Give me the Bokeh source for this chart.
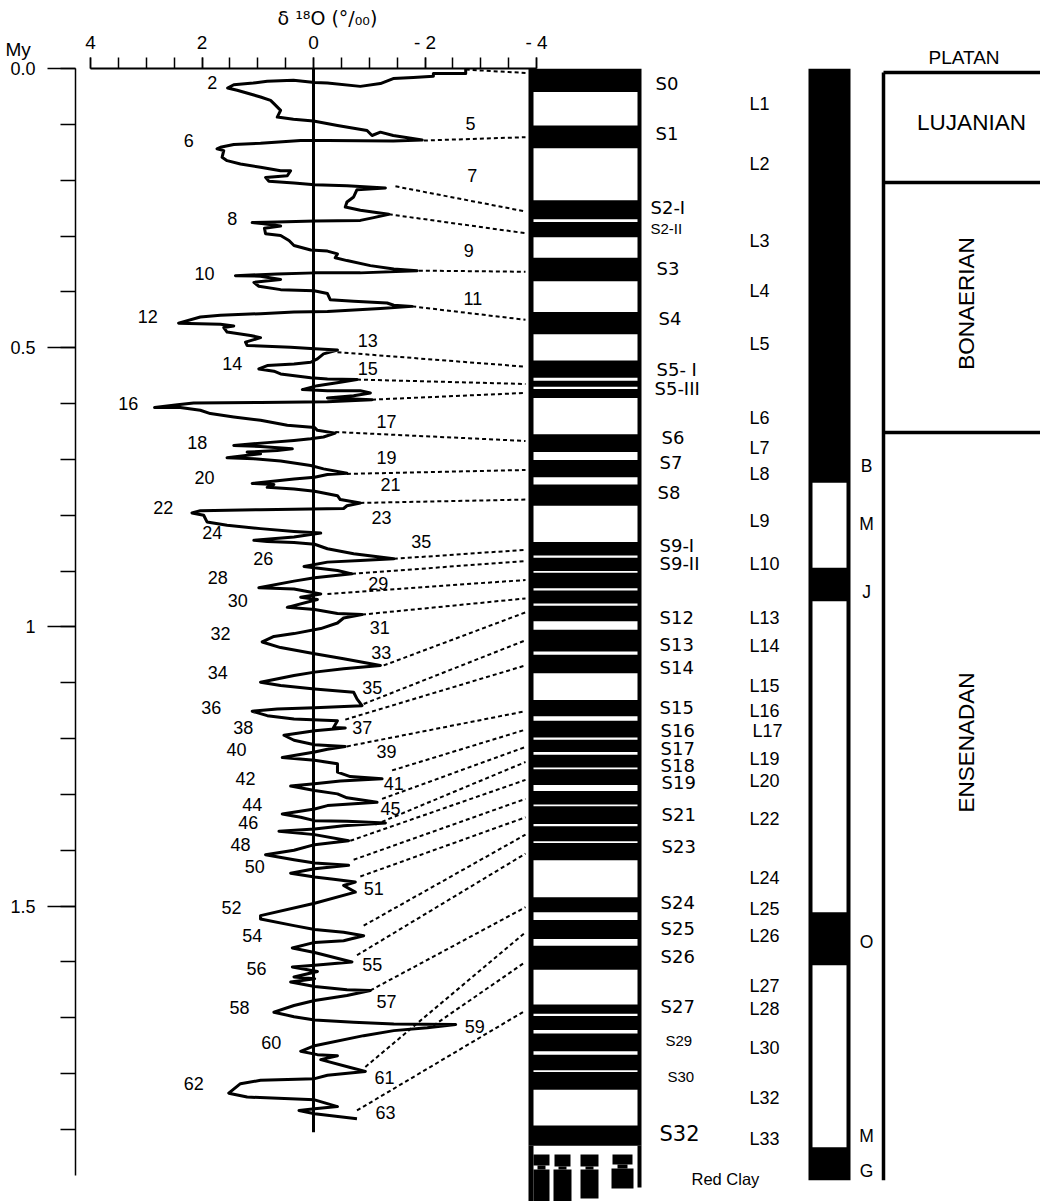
import numpy as np
from bokeh.plotting import figure
from bokeh.models import Range1d, LinearAxis, FixedTicker, ColumnDataSource, LabelSet, Title, Grid
from bokeh.core.properties import value
from bokeh.embed import file_html
from bokeh.resources import INLINE

# ---------------- data ----------------
# benthic d18O record: age (My) and d18O (permil)
age_my = [
    0.000, 0.009, 0.009, 0.014, 0.016, 0.018, 0.027, 0.032, 0.026, 0.025,
    0.021, 0.023, 0.026, 0.029, 0.035, 0.039, 0.051, 0.057, 0.063, 0.075,
    0.087, 0.091, 0.094, 0.102, 0.111, 0.120, 0.114, 0.120, 0.128, 0.130,
    0.129, 0.129, 0.134, 0.136, 0.141, 0.144, 0.147, 0.159, 0.165, 0.171,
    0.177, 0.183, 0.183, 0.192, 0.195, 0.202, 0.205, 0.208, 0.210, 0.214,
    0.217, 0.230, 0.239, 0.248, 0.254, 0.261, 0.267, 0.272, 0.273, 0.275,
    0.276, 0.278, 0.282, 0.286, 0.296, 0.299, 0.308, 0.317, 0.325, 0.327,
    0.332, 0.339, 0.344, 0.353, 0.359, 0.362, 0.366, 0.366, 0.368, 0.371,
    0.372, 0.378, 0.383, 0.390, 0.396, 0.398, 0.403, 0.414, 0.417, 0.420,
    0.424, 0.426, 0.430, 0.435, 0.436, 0.439, 0.442, 0.445, 0.456,
    0.458, 0.461, 0.464, 0.472, 0.478, 0.482, 0.490, 0.496, 0.499, 0.502,
    0.504, 0.511, 0.520, 0.526, 0.529, 0.532, 0.538, 0.542, 0.547, 0.554,
    0.556, 0.557, 0.562, 0.568, 0.575, 0.577, 0.577, 0.581, 0.586, 0.590,
    0.592, 0.593, 0.597, 0.598, 0.599, 0.602, 0.607, 0.607, 0.612, 0.618,
    0.624, 0.630, 0.639, 0.643, 0.648, 0.653, 0.660, 0.663, 0.666, 0.670,
    0.675, 0.677, 0.681, 0.684, 0.687, 0.690, 0.697, 0.699, 0.703, 0.711,
    0.717, 0.725, 0.727, 0.732, 0.735, 0.743, 0.745, 0.750, 0.753, 0.757,
    0.765, 0.772, 0.778, 0.783, 0.788, 0.790, 0.792, 0.796, 0.800, 0.812,
    0.818, 0.824, 0.829, 0.832, 0.839, 0.845, 0.847, 0.849, 0.852, 0.860,
    0.869, 0.878, 0.881, 0.884, 0.892, 0.899, 0.905, 0.912, 0.918, 0.930,
    0.932, 0.941, 0.947, 0.951, 0.965, 0.969, 0.976, 0.978, 0.984, 0.993,
    1.003, 1.012, 1.017, 1.027, 1.037, 1.048, 1.057, 1.069, 1.075, 1.081,
    1.087, 1.099, 1.105, 1.111, 1.117, 1.129, 1.141, 1.145, 1.147, 1.151,
    1.159, 1.165, 1.168, 1.180, 1.181, 1.186, 1.194, 1.203, 1.211, 1.214,
    1.219, 1.224, 1.234, 1.239, 1.245, 1.260, 1.268, 1.272, 1.276, 1.281,
    1.285, 1.293, 1.299, 1.306, 1.314, 1.320, 1.326, 1.335, 1.341, 1.347,
    1.348, 1.351, 1.356, 1.362, 1.366, 1.372, 1.383, 1.390, 1.400, 1.408,
    1.417, 1.423, 1.427, 1.433, 1.441, 1.448, 1.452, 1.457, 1.463, 1.475,
    1.495, 1.517, 1.523, 1.535, 1.542, 1.547, 1.553, 1.562, 1.565, 1.575,
    1.583, 1.600, 1.606, 1.609, 1.617, 1.627, 1.630, 1.636, 1.644, 1.650,
    1.651, 1.660, 1.669, 1.678, 1.690, 1.698, 1.704, 1.708, 1.711, 1.712,
    1.718, 1.723, 1.732, 1.750, 1.760, 1.766, 1.768, 1.775, 1.789, 1.796,
    1.803, 1.809, 1.812, 1.818, 1.835, 1.842, 1.847, 1.859, 1.863, 1.866, 1.872, 1.881,
]
d18o = [
    -2.73, -2.73, -2.15, -2.15, -1.79, -1.43, -1.20, -0.84, -0.25, -0.02,
    0.36, 0.83, 1.08, 1.43, 1.54, 1.37, 0.95, 0.77, 0.71, 0.59,
    0.65, 0.36, 0.00, -0.43, -0.96, -1.05, -1.20, -1.43, -1.95, -1.43,
    -0.25, 0.23, 0.95, 1.43, 1.67, 1.73, 1.61, 1.64, 1.55, 1.31,
    0.95, 0.59, 0.41, 0.47, 0.86, 0.80, 0.35, -0.02, -0.60, -1.29,
    -0.78, -0.72, -0.60, -0.57, -0.84, -1.35, -1.08, -0.84, -0.02, 0.65,
    1.10, 0.89, 0.59, 0.88, 0.86, 0.59, 0.44, 0.35, 0.05, -0.25,
    -0.43, -0.39, -0.60, -1.02, -1.44, -1.86, -0.84, -0.02, 0.65, 1.40,
    0.95, 0.59, 1.07, 0.98, 0.59, -0.01, -0.25, -0.30, -0.72, -1.32,
    -1.44, -1.77, -1.20, -0.25, 0.35, 0.95, 1.67, 2.03, 2.42,
    1.67, 1.43, 1.61, 1.55, 1.13, 0.95, 1.22, 1.19, 0.41, -0.02,
    -0.43, -0.18, -0.07, 0.05, 0.35, 0.83, 0.98, 0.71, 0.59, 0.05,
    -0.25, -0.78, -0.48, -0.07, 0.20, -0.25, -0.84, -1.02, -0.72, -0.25,
    -0.72, -1.05, -0.25, 0.95, 2.15, 2.44, 2.85, 2.39, 2.03, 1.85,
    1.43, 0.95, 0.47, -0.02, -0.07, -0.39, -0.18, 0.05, 0.35, 0.83,
    1.43, 0.95, 0.38, 0.65, 1.19, 0.95, 1.55, 1.07, 0.59, 0.05,
    -0.18, -0.60, -0.25, -0.02, 0.35, 1.10, 0.71, 0.83, 0.35, -0.02,
    -0.43, -0.48, -0.84, -0.60, -0.54, 0.95, 2.03, 2.18, 1.97, 1.91,
    1.55, 0.95, 0.35, -0.13, 0.35, 1.07, 0.83, 0.35, -0.02, -0.25,
    -0.72, -1.44, -0.84, -0.25, 0.17, -0.43, -0.69, -0.02, 0.35, 0.98,
    0.35, -0.13, 0.23, -0.07, 0.47, -0.02, -0.43, -0.87, -0.54, -0.43,
    -0.13, 0.35, 0.71, 0.92, 0.59, -0.02, -0.54, -1.20, -0.54, -0.02,
    0.35, 0.95, 0.59, -0.02, -0.72, -0.78, -0.87, -0.02, 0.65, 1.10,
    0.83, 0.35, -0.43, -0.36, -0.57, -0.02, 0.53, 0.35, -0.02, -0.57,
    -0.25, -0.02, 0.56, -0.02, -0.43, -0.43, -0.66, -1.23, -0.48, -0.02,
    0.41, -0.02, -0.43, -0.60, -1.14, -0.25, -0.02, 0.56, 0.23, -0.02,
    -0.60, -1.29, -0.54, -0.02, 0.62, -0.02, -0.63, -0.02, 0.35, 0.86,
    0.35, -0.02, -0.63, -0.02, 0.41, -0.02, -0.36, -0.75, -0.54, -0.75,
    -0.02, 0.95, 0.95, 0.35, -0.02, -0.54, -0.90, -0.54, -0.02, 0.38,
    -0.02, -0.69, -0.02, 0.38, -0.07, 0.35, -0.02, 0.41, -0.02, -0.60,
    -1.02, -0.60, -0.02, 0.35, 0.71, 0.35, -0.02, -0.72, -1.44, -2.55,
    -2.04, -1.44, -0.90, -0.02, 0.23, -0.07, -0.43, -0.13, -0.66, -0.93,
    -0.25, -0.02, 0.95, 1.31, 1.52, 1.19, -0.02, -0.43, -0.02, 0.26, -0.02, -0.78,
]
record_end_my = 1.905

# correlation (tie) lines: curve point -> top of a palaeosol in the column
tie_d18o = [-2.73, -1.98, -1.47, -1.35, -1.89, -1.77, -0.43, -0.78, -1.05, -0.39,
            -0.60, -0.84, -1.44, -0.69, -0.25, -0.87, -1.26, -0.90, -0.57, -0.60,
            -1.41, -1.23, -1.11, -0.66, -0.72, -0.84, -0.90, -0.78, -1.02, -0.93,
            -2.15, -0.78]
tie_age_curve = [0.002, 0.129, 0.211, 0.261, 0.362, 0.426, 0.508, 0.557, 0.593, 0.651,
                 0.726, 0.778, 0.878, 0.905, 0.941, 0.978, 1.069, 1.138, 1.166, 1.214,
                 1.257, 1.308, 1.354, 1.383, 1.417, 1.447, 1.535, 1.588, 1.651, 1.788,
                 1.714, 1.866]
tie_age_column = [0.008, 0.123, 0.256, 0.295, 0.364, 0.450, 0.534, 0.565, 0.581, 0.667,
                  0.719, 0.772, 0.862, 0.882, 0.916, 0.949, 0.974, 1.024, 1.069, 1.151,
                  1.184, 1.215, 1.242, 1.274, 1.308, 1.341, 1.372, 1.406, 1.502, 1.547,
                  1.600, 1.687]

# loess (white) intervals in the loess-palaeosol column (My); the rest is palaeosol (black)
loess_top = [0.042, 0.143, 0.270, 0.302, 0.381, 0.476, 0.554, 0.570, 0.590, 0.687,
             0.732, 0.783, 0.872, 0.900, 0.931, 0.958, 0.990, 1.044, 1.083, 1.160,
             1.198, 1.224, 1.252, 1.283, 1.318, 1.353, 1.384, 1.418, 1.511, 1.559,
             1.614, 1.693, 1.722, 1.760, 1.794, 1.829]
loess_bottom = [0.102, 0.236, 0.275, 0.339, 0.436, 0.523, 0.559, 0.574, 0.655, 0.701,
                0.745, 0.848, 0.876, 0.903, 0.935, 0.962, 1.005, 1.050, 1.131, 1.168,
                1.202, 1.229, 1.255, 1.294, 1.321, 1.357, 1.387, 1.484, 1.525, 1.571,
                1.676, 1.697, 1.728, 1.766, 1.797, 1.893]
column_base_my = 1.929

# magnetic polarity: reversed (white) intervals; normal (black) elsewhere
reversed_top = [0.742, 0.954, 1.606]
reversed_bottom = [0.894, 1.511, 1.932]
polarity_base_my = 1.991

# South American land-mammal stages
stage_names = ["LUJANIAN", "BONAERIAN", "ENSENADAN"]
stage_top = [0.007, 0.204, 0.652]
stage_bottom = [0.204, 0.652, 1.991]

# texts
peak_labels = ["2", "5", "6", "7", "8", "9", "10", "11", "12", "13", "14", "15", "16", "17",
               "18", "19", "20", "21", "22", "23", "24", "35", "26", "28", "29", "30", "31",
               "32", "33", "34", "35", "36", "37", "38", "39", "40", "41", "42", "44", "45",
               "46", "48", "50", "51", "52", "54", "55", "56", "57", "58", "59", "60", "61",
               "62", "63"]
soil_labels = ["S0", "S1", "S2-I", "S2-II", "S3", "S4", "S5- I", "S5-III", "S6", "S7", "S8",
               "S9-I", "S9-II", "S12", "S13", "S14", "S15", "S16", "S17", "S18", "S19",
               "S21", "S23", "S24", "S25", "S26", "S27", "S29", "S30", "S32"]
loess_labels = ["L1", "L2", "L3", "L4", "L5", "L6", "L7", "L8", "L9", "L10", "L13", "L14",
                "L15", "L16", "L17", "L19", "L20", "L22", "L24", "L25", "L26", "L27", "L28",
                "L30", "L32", "L33"]
chron_labels = ["B", "M", "J", "O", "M", "G"]
y_tick_labels = {0: "0.0", 0.5: "0.5", 1: "1", 1.5: "1.5"}
x_tick_labels = {4: "4", 2: "2", 0: "0", -2: "- 2", -4: "- 4"}
x_title = "\u03b4 \u00b9\u2078O (\u00b0/\u2080\u2080)"
y_unit = "My"
table_header = "PLATAN"

# ---------------- layout (reference pixels) ----------------
FIG_W, FIG_H = 1040, 1201
BL, BT = 75, 68
X0, KX = 313.0, 55.75     # position of d18O = 0 and px per permil
Y0, KY = 68.0, 558.4      # position of 0 My and px per My


def age_at(py):
    return (py - Y0) / KY


def d_at(px):
    return (X0 - px) / KX


p = figure(width=FIG_W, height=FIG_H, output_backend="svg", toolbar_location=None,
           x_range=Range1d(d_at(BL), d_at(FIG_W)),
           y_range=Range1d(age_at(FIG_H), age_at(BT)),
           x_axis_location=None, y_axis_location=None,
           min_border_left=BL, min_border_top=BT, min_border_right=0, min_border_bottom=0,
           background_fill_color="white", border_fill_color="white")
p.extra_x_ranges = {"lay": Range1d(BL, FIG_W)}
p.outline_line_color = None

top_ax = LinearAxis(
    bounds=(-4, 4),
    ticker=FixedTicker(ticks=[4, 2, 0, -2, -4],
                       minor_ticks=[float(v) for v in np.arange(-4, 4.01, 0.5)]),
    major_label_overrides=x_tick_labels,
    major_tick_in=0, major_tick_out=11, minor_tick_in=0, minor_tick_out=11,
    major_tick_line_width=1.5, minor_tick_line_width=1.5, axis_line_width=2,
    major_label_standoff=5, major_label_text_font_size="19px",
    major_label_text_font="Liberation Sans", major_label_text_color="black")
p.add_layout(top_ax, "above")


def head(text, offset, standoff, font="Liberation Sans"):
    t = Title(text=text, align="left", offset=offset, standoff=standoff,
              vertical_align="bottom", text_font=font, text_font_size="19px",
              text_font_style="normal", text_color="black")
    p.add_layout(t, "above")


head(x_title, 202, 0, font="DejaVu Sans")
head(table_header, 853, -127)
head(y_unit, -70, -110)

left_ax = LinearAxis(
    bounds=(0, age_at(1175)),
    ticker=FixedTicker(ticks=[0, 0.5, 1, 1.5],
                       minor_ticks=[round(0.1 * i, 1) for i in range(20)]),
    major_label_overrides=y_tick_labels,
    major_tick_in=0, major_tick_out=28, minor_tick_in=0, minor_tick_out=15,
    major_tick_line_width=1.5, minor_tick_line_width=1.5, axis_line_width=1.5,
    major_label_standoff=12, major_label_text_font_size="18px",
    major_label_text_font="Liberation Sans", major_label_text_color="black")
p.add_layout(left_ax, "left")

for g in p.select(type=Grid):
    g.visible = False

# ---- d18O curve, zero line, ties ----
p.line([0, 0], [0, record_end_my], line_width=3, color="black")
p.line(d18o, age_my, line_width=3, color="black", line_join="round")
TIE_END = 525
p.segment(x0=tie_d18o, y0=tie_age_curve, x1=[d_at(TIE_END)] * len(tie_d18o), y1=tie_age_column,
          line_dash="4 3", line_width=2, color="black")

# ---- loess / palaeosol column ----
COL_L, COL_R, COL_IL, COL_IR = 528, 641, 533, 637
p.quad(left=[COL_L], right=[COL_R], top=[0], bottom=[column_base_my],
       color="black", line_color=None, x_range_name="lay")
p.quad(left=COL_IL, right=COL_IR, top=loess_top, bottom=loess_bottom,
       color="white", line_color=None, x_range_name="lay")
# red clay at the base (lithology symbol)
p.quad(left=[COL_L, COL_IR], right=[COL_IL, COL_R], top=[column_base_my] * 2,
       bottom=[age_at(1201), age_at(1187)], color="black", line_color=None, x_range_name="lay")
rc_l = [533, 554, 580, 612, 537, 558, 585, 617, 533, 553, 580, 611]
rc_r = [549, 570, 598, 632, 545, 566, 593, 627, 549, 571, 598, 633]
rc_t = [1154, 1154, 1154, 1154, 1165, 1166, 1166, 1164, 1169, 1169, 1169, 1168]
rc_b = [1165, 1166, 1166, 1164, 1169, 1169, 1169, 1168, 1201, 1201, 1198, 1188]
p.quad(left=rc_l, right=rc_r, top=[age_at(v) for v in rc_t], bottom=[age_at(v) for v in rc_b],
       color="black", line_color=None, x_range_name="lay")

# ---- polarity column ----
POL_L, POL_R, POL_IL, POL_IR = 808, 850, 812, 846
p.quad(left=[POL_L], right=[POL_R], top=[0], bottom=[polarity_base_my],
       color="black", line_color=None, x_range_name="lay")
p.quad(left=POL_IL, right=POL_IR, top=reversed_top, bottom=reversed_bottom,
       color="white", line_color=None, x_range_name="lay")

# ---- stage table ----
TAB_L = 883
p.segment(x0=[TAB_L], y0=[stage_top[0]], x1=[TAB_L], y1=[stage_bottom[-1]],
          line_width=3.5, color="black", x_range_name="lay")
p.segment(x0=[TAB_L] * 3, y0=stage_top, x1=[1045] * 3, y1=stage_top,
          line_width=3.5, color="black", x_range_name="lay")


def labels(texts, xs, ys_px, size, font="Liberation Sans", align="center", angle=0.0):
    src = ColumnDataSource(dict(x=xs, y=[age_at(v) for v in ys_px], t=texts))
    p.add_layout(LabelSet(x="x", y="y", text="t", source=src, x_range_name="lay",
                          text_align=align, text_baseline="middle", angle=angle,
                          text_font=value(font), text_font_size=value(size),
                          text_color="black"))


# peak numbers
pk_x = [211.7, 470, 188.3, 471.7, 231.7, 468.3, 204, 472.3, 147.3, 367.3, 231.7, 367.3, 127.7,
        386, 196.7, 386, 204, 390, 162.7, 381, 211.7, 420.7, 262.7, 217.3, 377.7, 237.3, 379.3,
        220, 380.7, 217.3, 371.7, 210.7, 361.7, 242.7, 386, 236, 393.3, 245, 251.7, 390,
        247.7, 240, 254.3, 373.3, 231, 251.7, 371.7, 256, 386, 239, 474.3, 270.7, 384,
        193.3, 385]
pk_y = [81.7, 123, 140, 175, 218.3, 250, 273.3, 298.3, 316, 340, 363.3, 368.3, 402.7,
        421, 441.7, 457.3, 477.3, 484, 506.7, 517.3, 532.3, 540.7, 557.7, 577.3, 582.7, 600,
        627.3, 633, 652.3, 672.3, 686.7, 706.7, 727.3, 727.3, 751, 749.3, 783.3, 778.3,
        804.3, 807.7, 822.3, 844, 865.7, 888.3, 906.5, 935, 964.3, 968.3, 1001, 1006.7,
        1026, 1041.7, 1076.7, 1082.7, 1111.7]
labels(peak_labels, pk_x, pk_y, "18px")

# soil labels
s_x = [655, 655, 650, 650, 656, 658, 656, 654, 661, 659, 657, 659, 659, 659, 659, 659, 659,
       660, 660, 660, 661, 661, 661, 660, 660, 660, 660, 665, 667, 659]
s_y = [83, 133, 207, 228, 268, 318, 369, 388, 437, 462, 492, 545, 563, 617, 644, 667, 707,
       730, 748, 765, 782, 814, 846, 902, 928, 956, 1006, 1040, 1076, 1133]
small = {"S2-II", "S29", "S30"}
big_i = [i for i, s in enumerate(soil_labels) if s not in small and s != "S32"]
sm_i = [i for i, s in enumerate(soil_labels) if s in small]
s32_i = [i for i, s in enumerate(soil_labels) if s == "S32"]
for idx, size, font in ((big_i, "18px", "DejaVu Sans"), (sm_i, "15px", "Liberation Sans"),
                        (s32_i, "21px", "DejaVu Sans")):
    labels([soil_labels[i] for i in idx], [s_x[i] for i in idx], [s_y[i] for i in idx],
           size, font=font, align="left")

# loess labels
l_x = [749] * len(loess_labels)
l_x[loess_labels.index("L17")] = 752
l_y = [103, 163, 240, 290, 343, 417, 447, 473, 520, 563, 617, 645, 685, 710, 730, 758, 780,
       818, 877, 908, 935, 985, 1008, 1047, 1097, 1138]
labels(loess_labels, l_x, l_y, "18px", align="left")
labels(["Red Clay"], [691], [1178], "16.5px", align="left")

# chron letters
labels(chron_labels, [866] * 6, [465, 523, 591, 941, 1135, 1170], "17.5px")

# stage names
labels([stage_names[0]], [971], [122], "22.5px")
labels(stage_names[1:], [966, 966], [303, 742], "22.5px", angle=np.pi / 2)

open("out.html", "w").write(file_html(p, INLINE))
